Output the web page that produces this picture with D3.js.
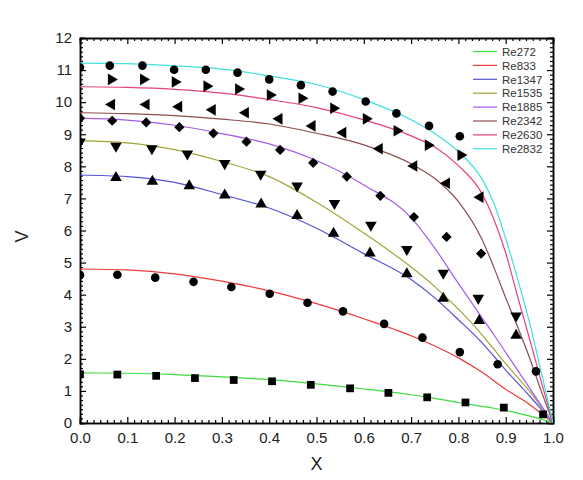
<!DOCTYPE html>
<html>
<head>
<meta charset="utf-8">
<script src="https://cdn.jsdelivr.net/npm/d3@7"></script>
<style>
  body { margin: 0; background: #fff; }
  text { font-family: "Liberation Sans", Arial, sans-serif; }
</style>
</head>
<body>
<div id="container"></div>
<script>
let w = 583;
let h = 480;
let margin = {top: 38, right: 30, bottom: 57, left: 80};

// series names and colours
let names = ["Re272", "Re833", "Re1347", "Re1535", "Re1885", "Re2342", "Re2630", "Re2832"];
let colors = ["#3ddc3d", "#ee3b3b", "#5353d6", "#a3a33a", "#a55aec", "#8e4c4c", "#e6417a", "#3fe0e0"];

// fitted curves (x, V)
let curveX    = [0, 0.1, 0.2, 0.3, 0.4, 0.5, 0.6, 0.7, 0.75, 0.8, 0.85, 0.875, 0.9, 0.925, 0.95, 0.975, 1.0];
let curve272  = [1.56, 1.55, 1.51, 1.44, 1.35, 1.22, 1.06, 0.88, 0.77, 0.64, 0.52, 0.46, 0.39, 0.31, 0.22, 0.12, 0];
let curve833  = [4.80, 4.77, 4.65, 4.42, 4.12, 3.72, 3.25, 2.72, 2.40, 2.03, 1.58, 1.32, 1.05, 0.82, 0.58, 0.30, 0];
let curve1347 = [7.73, 7.68, 7.50, 7.12, 6.70, 6.07, 5.28, 4.47, 3.90, 3.22, 2.50, 2.08, 1.65, 1.25, 0.85, 0.43, 0];
let curve1535 = [8.80, 8.73, 8.52, 8.15, 7.68, 6.88, 5.92, 4.86, 4.25, 3.55, 2.75, 2.30, 1.85, 1.42, 1.00, 0.50, 0];
let curve1885 = [9.50, 9.44, 9.28, 9.02, 8.70, 8.18, 7.42, 6.40, 5.45, 4.35, 3.28, 2.75, 2.20, 1.65, 1.10, 0.55, 0];
let curve2342 = [9.67, 9.64, 9.58, 9.47, 9.32, 9.03, 8.67, 8.08, 7.62, 6.90, 5.72, 4.85, 3.90, 3.00, 2.05, 1.00, 0];
let curve2630 = [10.48, 10.46, 10.40, 10.28, 10.08, 9.83, 9.45, 8.95, 8.60, 8.02, 7.15, 6.35, 5.30, 3.95, 2.65, 1.30, 0];
let curve2832 = [11.22, 11.20, 11.13, 11.03, 10.82, 10.55, 10.08, 9.45, 9.02, 8.45, 7.60, 6.85, 5.75, 4.50, 3.15, 1.60, 0];

// measured points
let x272 = [0, 0.079, 0.161, 0.243, 0.325, 0.406, 0.488, 0.571, 0.652, 0.734, 0.815, 0.896, 0.979];
let y272 = [1.52, 1.51, 1.47, 1.40, 1.34, 1.30, 1.19, 1.08, 0.94, 0.80, 0.64, 0.48, 0.27];
let x833 = [0, 0.079, 0.159, 0.240, 0.320, 0.401, 0.481, 0.556, 0.643, 0.724, 0.803, 0.883, 0.964];
let y833 = [4.61, 4.62, 4.53, 4.40, 4.24, 4.03, 3.75, 3.48, 3.09, 2.66, 2.21, 1.83, 1.61];
let x1347 = [0.076, 0.153, 0.231, 0.306, 0.383, 0.459, 0.536, 0.613, 0.691, 0.768, 0.844, 0.922];
let y1347 = [7.65, 7.53, 7.39, 7.10, 6.82, 6.46, 5.91, 5.29, 4.65, 3.88, 3.19, 2.73];
let x1535 = [0, 0.076, 0.152, 0.227, 0.306, 0.382, 0.459, 0.538, 0.615, 0.691, 0.768, 0.842, 0.922];
let y1535 = [8.76, 8.63, 8.55, 8.39, 8.09, 7.76, 7.39, 6.85, 6.17, 5.41, 4.67, 3.89, 3.34];
let x1885 = [0, 0.068, 0.140, 0.210, 0.282, 0.352, 0.423, 0.493, 0.564, 0.635, 0.706, 0.775, 0.848];
let y1885 = [9.50, 9.42, 9.37, 9.22, 9.03, 8.77, 8.51, 8.11, 7.68, 7.08, 6.42, 5.80, 5.28];
let x2342 = [0.067, 0.140, 0.209, 0.280, 0.350, 0.421, 0.491, 0.556, 0.633, 0.706, 0.775, 0.846];
let y2342 = [9.93, 9.93, 9.86, 9.76, 9.67, 9.48, 9.26, 9.05, 8.55, 8.01, 7.47, 7.04];
let x2630 = [0.066, 0.134, 0.201, 0.268, 0.335, 0.402, 0.469, 0.536, 0.605, 0.670, 0.736, 0.805];
let y2630 = [10.71, 10.71, 10.63, 10.50, 10.41, 10.22, 10.12, 9.81, 9.48, 9.11, 8.66, 8.35];
let x2832 = [0, 0.063, 0.132, 0.199, 0.266, 0.333, 0.400, 0.467, 0.534, 0.604, 0.669, 0.738, 0.803];
let y2832 = [11.08, 11.14, 11.14, 11.01, 11.01, 10.92, 10.71, 10.53, 10.33, 10.02, 9.65, 9.26, 8.94];

let xTicks = [0.0, 0.1, 0.2, 0.3, 0.4, 0.5, 0.6, 0.7, 0.8, 0.9, 1.0];
let yTicks = [0, 1, 2, 3, 4, 5, 6, 7, 8, 9, 10, 11, 12];

let curves = [curve272, curve833, curve1347, curve1535, curve1885, curve2342, curve2630, curve2832];
let pointsX = [x272, x833, x1347, x1535, x1885, x2342, x2630, x2832];
let pointsY = [y272, y833, y1347, y1535, y1885, y2342, y2630, y2832];
// marker: symbol type, rotation, size
let markers = [
  [d3.symbolSquare, 0, 60], [d3.symbolCircle, 0, 58], [d3.symbolTriangle, 0, 58], [d3.symbolTriangle, 180, 58],
  [d3.symbolSquare, 45, 52], [d3.symbolTriangle, -90, 58], [d3.symbolTriangle, 90, 58], [d3.symbolCircle, 0, 58]
];

let iw = w - margin.left - margin.right;
let ih = h - margin.top - margin.bottom;

let svg = d3.select("#container").append("svg")
    .attr("width", w)
    .attr("height", h);

let viz = svg.append("g")
    .attr("transform", "translate(" + margin.left + "," + margin.top + ")");

let xScale = d3.scaleLinear().domain([0, 1]).range([0, iw]);
let yScale = d3.scaleLinear().domain([0, 12]).range([ih, 0]);

viz.append("clipPath").attr("id", "plotclip")
  .append("rect").attr("width", iw).attr("height", ih);

// minor ticks, 6 between majors
let xMinor = [];
for (let i = 0; i < 10; i++) for (let k = 1; k < 7; k++) xMinor.push(i * 0.1 + k * 0.1 / 7);
let yMinor = [];
for (let i = 0; i < 12; i++) for (let k = 1; k < 7; k++) yMinor.push(i + k / 7);

function styleAxis(g) {
  g.select(".domain").attr("stroke", "#000").attr("stroke-width", 1.5);
  g.selectAll(".tick line").attr("stroke", "#000").attr("stroke-width", 1.2);
  g.selectAll("text").attr("font-size", 15).attr("fill", "#222")
    .attr("font-family", "'Liberation Sans', Arial, sans-serif");
}

// bottom
viz.append("g").attr("transform", "translate(0," + ih + ")")
  .call(d3.axisBottom(xScale).tickValues(xMinor).tickSize(-3).tickFormat(""))
  .call(styleAxis);
viz.append("g").attr("transform", "translate(0," + ih + ")")
  .call(d3.axisBottom(xScale).tickValues(xTicks).tickSize(-6).tickPadding(9).tickFormat(d3.format(".1f")))
  .call(styleAxis);
// top
viz.append("g")
  .call(d3.axisTop(xScale).tickValues(xMinor).tickSize(-3).tickFormat(""))
  .call(styleAxis);
viz.append("g")
  .call(d3.axisTop(xScale).tickValues(xTicks).tickSize(-6).tickFormat(""))
  .call(styleAxis);
// left
viz.append("g")
  .call(d3.axisLeft(yScale).tickValues(yMinor).tickSize(-3).tickFormat(""))
  .call(styleAxis);
viz.append("g")
  .call(d3.axisLeft(yScale).tickValues(yTicks).tickSize(-6).tickPadding(8))
  .call(styleAxis);
// right
viz.append("g").attr("transform", "translate(" + iw + ",0)")
  .call(d3.axisRight(yScale).tickValues(yMinor).tickSize(-3).tickFormat(""))
  .call(styleAxis);
viz.append("g").attr("transform", "translate(" + iw + ",0)")
  .call(d3.axisRight(yScale).tickValues(yTicks).tickSize(-6).tickFormat(""))
  .call(styleAxis);

// fitted lines
let line = d3.line()
  .x(function(d) { return xScale(d[0]); })
  .y(function(d) { return yScale(d[1]); })
  .curve(d3.curveMonotoneX);

let plot = viz.append("g").attr("clip-path", "url(#plotclip)");

curves.forEach(function(c, i) {
  plot.append("path")
    .datum(curveX.map(function(x, j) { return [x, c[j]]; }))
    .attr("fill", "none")
    .attr("stroke", colors[i])
    .attr("stroke-width", 1.2)
    .attr("d", line);
});

// markers
pointsX.forEach(function(xs, i) {
  let sym = d3.symbol().type(markers[i][0]).size(markers[i][2]);
  plot.selectAll(".m" + i).data(xs.map(function(x, j) { return [x, pointsY[i][j]]; }))
    .enter().append("path")
      .attr("class", "m" + i)
      .attr("d", sym)
      .attr("fill", "#000")
      .attr("transform", function(d) {
        return "translate(" + xScale(d[0]) + "," + yScale(d[1]) + ") rotate(" + markers[i][1] + ")";
      });
});

// legend
let legend = viz.append("g").attr("transform", "translate(" + (473 - margin.left) + "," + (51.5 - margin.top) + ")");
names.forEach(function(n, i) {
  let g = legend.append("g").attr("transform", "translate(0," + (i * 13.9) + ")");
  g.append("line").attr("x1", 0).attr("x2", 24).attr("y1", 0).attr("y2", 0)
    .attr("stroke", colors[i]).attr("stroke-width", 1.2);
  g.append("text").attr("x", 29).attr("y", 4.2).attr("font-size", 11.5).attr("fill", "#333").text(n);
});

// axis titles
svg.append("text")
  .attr("x", margin.left + iw / 2).attr("y", 470)
  .attr("text-anchor", "middle").attr("font-size", 18).attr("fill", "#222")
  .text("X");
svg.append("text")
  .attr("transform", "translate(28," + (margin.top + ih / 2 + 6) + ") rotate(-90)")
  .attr("text-anchor", "middle").attr("font-size", 18).attr("fill", "#222")
  .text("V");
</script>
</body>
</html>
